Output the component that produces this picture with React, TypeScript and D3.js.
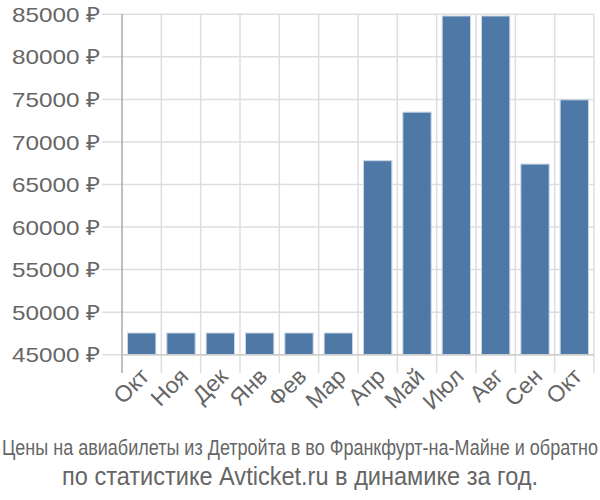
import React from "react";
import * as d3 from "d3";

const months = ["Окт", "Ноя", "Дек", "Янв", "Фев", "Мар", "Апр", "Май", "Июл", "Авг", "Сен", "Окт"];
const prices = [47550, 47550, 47550, 47550, 47550, 47550, 67800, 73500, 84800, 84800, 67400, 74950];
const yTicks = [45000, 50000, 55000, 60000, 65000, 70000, 75000, 80000, 85000];
const title1 = "Цены на авиабилеты из Детройта в во Франкфурт-на-Майне и обратно";
const title2 = "по статистике Avticket.ru в динамике за год.";

export default function App() {
  const W = 600, H = 500;
  const left = 122, right = 594, top = 14.3, bottom = 354.7;
  const x = d3.scaleBand<number>().domain(d3.range(months.length)).range([left, right]).paddingInner(0.28).paddingOuter(0.14);
  const xs = d3.scaleBand<number>().domain(d3.range(months.length)).range([left, right]);
  const y = d3.scaleLinear().domain([45000, 85000]).range([bottom, top]);
  const font = "'Liberation Sans', Arial, sans-serif";
  return (
    <svg width={W} height={H} style={{ position: "absolute", left: 0, top: 0 }} fontFamily={font}>
      {yTicks.map((t) => (
        <g key={t}>
          <line x1={102} x2={right} y1={y(t)} y2={y(t)} stroke="#dedede" strokeWidth={1.5} />
          <text x={100} y={y(t)} dy="0.36em" textAnchor="end" fontSize={21} fill="#666" textLength={88} lengthAdjust="spacingAndGlyphs">{`${t} ₽`}</text>
        </g>
      ))}
      {d3.range(months.length + 1).map((i) => {
        const xx = i < months.length ? xs(i)! : right;
        return <line key={i} x1={xx} x2={xx} y1={top} y2={373} stroke={i === 0 ? "#aaa" : "#dedede"} strokeWidth={1.5} />;
      })}
      {prices.map((v, i) => (
        <rect key={i} x={x(i)!} y={y(v)} width={x.bandwidth()} height={bottom - y(v)} fill="#4e79a7" stroke="#c9d6e6" strokeWidth={1} />
      ))}
      <line x1={left} x2={right} y1={bottom} y2={bottom} stroke="#ccc" strokeWidth={1.5} />
      {months.map((m, i) => {
        const cx = xs(i)! + xs.bandwidth() / 2 + 3;
        const cy = 372;
        return (
          <text key={i} transform={`translate(${cx},${cy}) rotate(-45)`} textAnchor="end" fontSize={23} fill="#666" dy="0.36em">{m}</text>
        );
      })}
      <text x={300} y={455} textAnchor="middle" fontSize={22} fill="#666" textLength={596} lengthAdjust="spacingAndGlyphs">{title1}</text>
      <text x={300} y={485} textAnchor="middle" fontSize={25} fill="#666" textLength={476} lengthAdjust="spacingAndGlyphs">{title2}</text>
    </svg>
  );
}
